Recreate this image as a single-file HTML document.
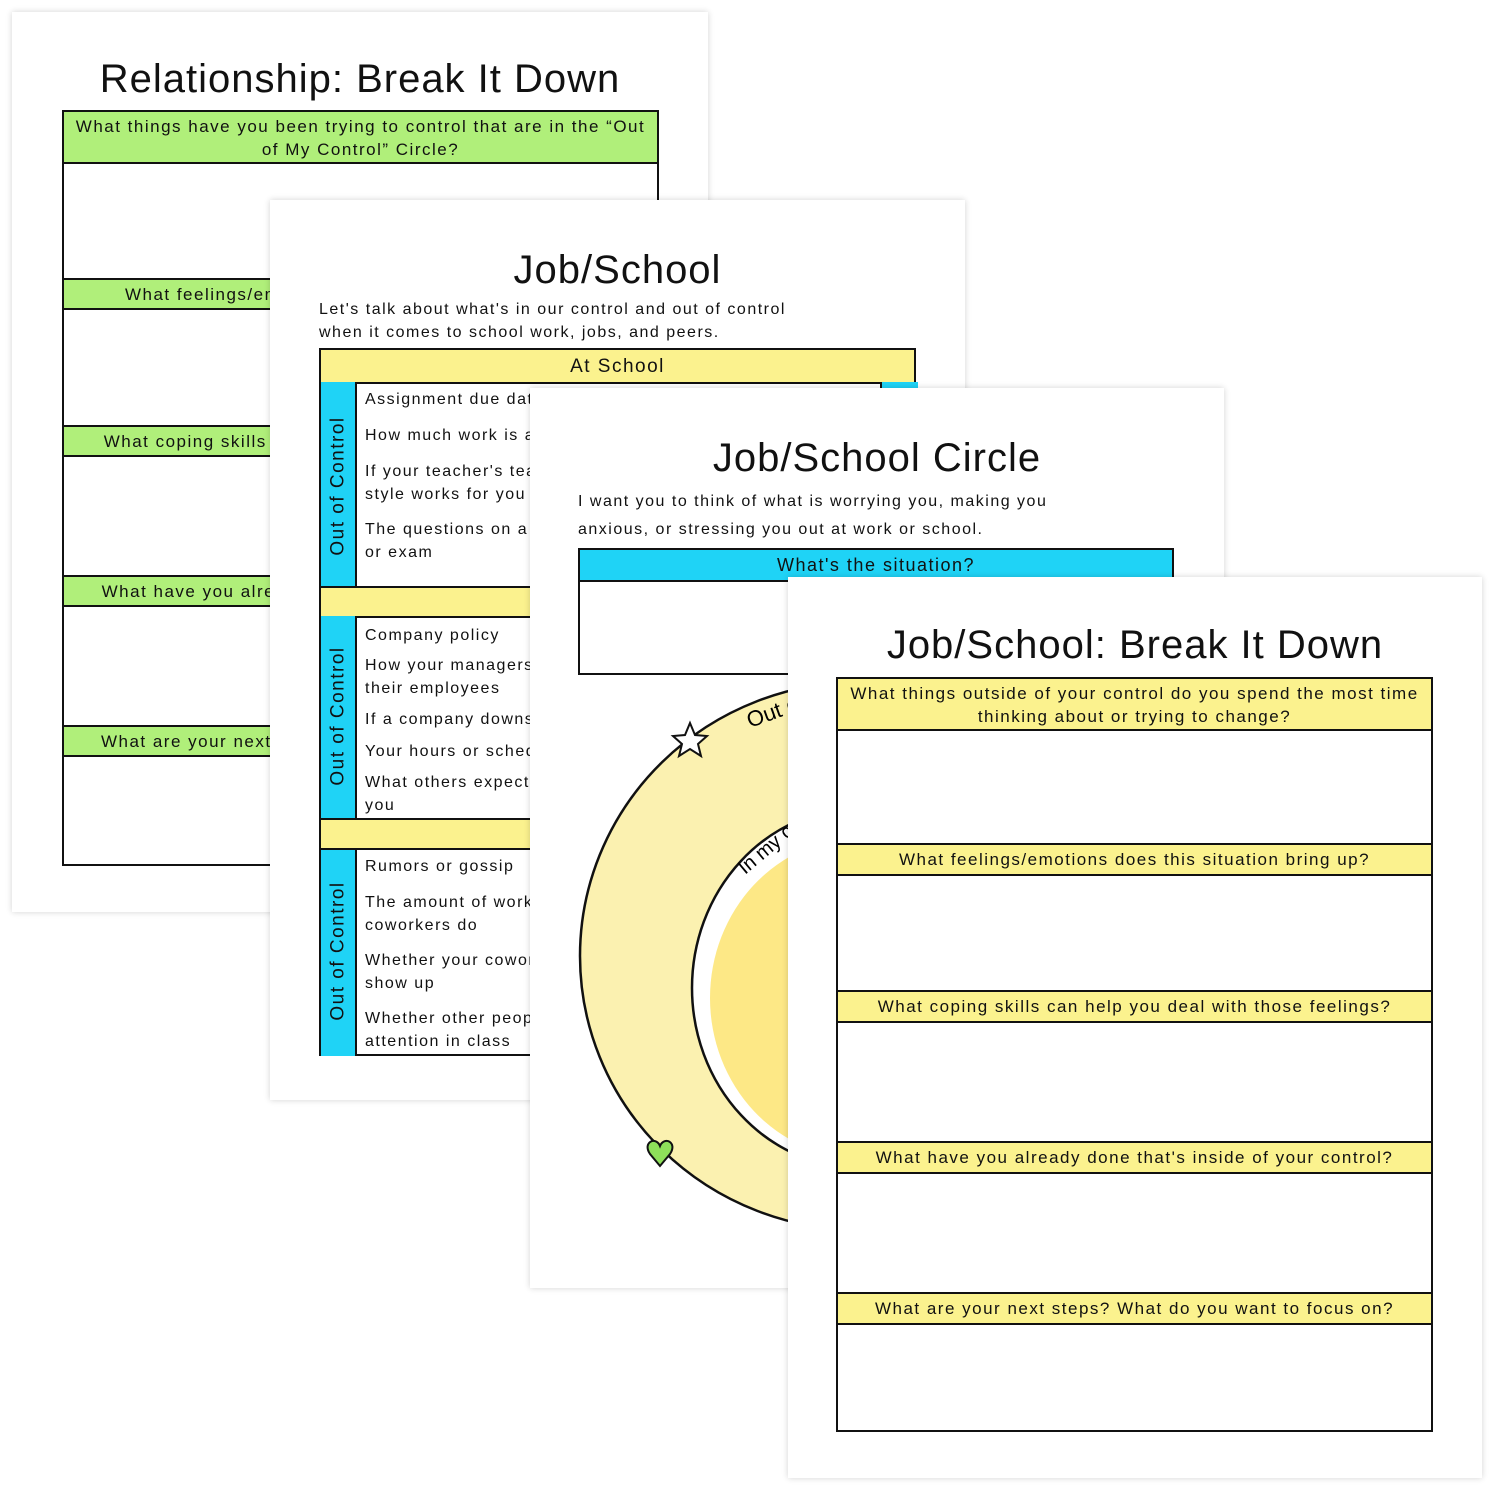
<!DOCTYPE html>
<html><head><meta charset="utf-8"><style>
body{margin:0;width:1500px;height:1500px;background:#fff;position:relative;overflow:hidden;font-family:"Liberation Sans",sans-serif;color:#111}
.pg{position:absolute;background:#fff;box-shadow:0 0 6px rgba(0,0,0,.18);overflow:hidden}
.abs{position:absolute}
.t{position:absolute;left:0;right:0;text-align:center;font-size:40px;letter-spacing:1px}
.box{position:absolute;border:2px solid #111;box-sizing:border-box;background:#fff}
.h{position:absolute;left:0;right:0;border-top:2px solid #111;border-bottom:2px solid #111;box-sizing:border-box;text-align:center;font-size:17px;letter-spacing:1.5px;line-height:23px}
.g{background:#b0ef7a}.y{background:#fbf28e}.b{background:#1fd3f6}
.txt{font-size:16px;letter-spacing:1.5px;line-height:23px;position:absolute}
.rot{position:absolute;transform:rotate(-90deg);transform-origin:center;font-size:19px;letter-spacing:1.5px;white-space:nowrap}
</style></head><body>

<div class="pg" style="left:12px;top:12px;width:696px;height:900px">
<div class="t" style="top:45px">Relationship: Break It Down</div>
<div class="box" style="left:50px;top:98px;width:597px;height:756px">
<div class="h g" style="top:-2px;height:54px;padding:3px 8px">What things have you been trying to control that are in the “Out of My Control” Circle?</div>
<div class="h g" style="top:166px;height:32px;padding-top:3px">What feelings/emotions does this situation bring up?</div>
<div class="h g" style="top:313px;height:32px;padding-top:3px">What coping skills can help you deal with those feelings?</div>
<div class="h g" style="top:463px;height:32px;padding-top:3px">What have you already done that's inside of your control?</div>
<div class="h g" style="top:613px;height:32px;padding-top:3px">What are your next steps? What do you want to focus on?</div>
</div>
</div>

<div class="pg" style="left:270px;top:200px;width:695px;height:900px">
<div class="t" style="top:48px">Job/School</div>
<div class="txt" style="left:49px;top:98px">Let's talk about what's in our control and out of control<br>when it comes to school work, jobs, and peers.</div>
<div class="box" style="left:49px;top:148px;width:597px;height:708px">
<div class="h y" style="top:-2px;height:36px;padding-top:5px;font-size:19px">At School</div>
<div class="abs b" style="left:0;top:32px;width:34px;height:206px;border-right:2px solid #111"></div>
<div class="abs b" style="left:559px;top:32px;width:36px;height:206px;border-left:2px solid #111"></div>
<div class="h y" style="top:236px;height:32px"></div>
<div class="abs b" style="left:0;top:266px;width:34px;height:202px;border-right:2px solid #111"></div>
<div class="h y" style="top:468px;height:32px"></div>
<div class="abs b" style="left:0;top:500px;width:34px;height:206px;border-right:2px solid #111"></div>
<div class="rot" style="left:-55px;top:125px;width:145px;text-align:center">Out of Control</div>
<div class="rot" style="left:-55px;top:355px;width:145px;text-align:center">Out of Control</div>
<div class="rot" style="left:-55px;top:590px;width:145px;text-align:center">Out of Control</div>
<div class="txt" style="left:44px;top:38px">Assignment due dates</div>
<div class="txt" style="left:44px;top:74px">How much work is assigned</div>
<div class="txt" style="left:44px;top:110px">If your teacher's teaching<br>style works for you</div>
<div class="txt" style="left:44px;top:168px">The questions on a test<br>or exam</div>
<div class="txt" style="left:44px;top:274px">Company policy</div>
<div class="txt" style="left:44px;top:304px">How your managers treat<br>their employees</div>
<div class="txt" style="left:44px;top:358px">If a company downsizes</div>
<div class="txt" style="left:44px;top:390px">Your hours or schedule</div>
<div class="txt" style="left:44px;top:421px">What others expect of<br>you</div>
<div class="txt" style="left:44px;top:505px">Rumors or gossip</div>
<div class="txt" style="left:44px;top:541px">The amount of work your<br>coworkers do</div>
<div class="txt" style="left:44px;top:599px">Whether your coworkers<br>show up</div>
<div class="txt" style="left:44px;top:657px">Whether other people pay<br>attention in class</div>
</div>
</div>

<div class="pg" style="left:530px;top:388px;width:694px;height:900px">
<div class="t" style="top:48px">Job/School Circle</div>
<div class="txt" style="left:48px;top:100px;line-height:28px">I want you to think of what is worrying you, making you<br>anxious, or stressing you out at work or school.</div>
<div class="box" style="left:48px;top:160px;width:596px;height:127px">
<div class="h b" style="top:-2px;height:34px;padding-top:4px;font-size:18px">What's the situation?</div>
</div>
<svg class="abs" style="left:0;top:0" width="694" height="900">
<ellipse cx="330" cy="568" rx="280" ry="274" fill="#fbf1b0" stroke="#111" stroke-width="2.5"/>
<ellipse cx="330" cy="600" rx="168" ry="180" fill="#fff" stroke="#111" stroke-width="2.5"/>
<ellipse cx="330" cy="610" rx="150" ry="160" fill="#fde886"/>
<polygon points="160,335 165,347 177,348 168,356 171,368 160,361 149,368 152,356 143,348 155,347" fill="#fff" stroke="#111" stroke-width="2"/>
<path d="M120,766 c-8,-12 6,-18 10,-8 c4,-10 18,-4 10,8 l-10,12 z" fill="#8ee05a" stroke="#111" stroke-width="2"/>
<text x="220" y="340" font-size="22" font-family="Liberation Sans" transform="rotate(-20 220 340)">Out of my control</text>
<text x="215" y="487" font-size="20" font-family="Liberation Sans" transform="rotate(-40 215 487)">In my control</text>
</svg>
</div>

<div class="pg" style="left:788px;top:577px;width:694px;height:901px">
<div class="t" style="top:46px">Job/School: Break It Down</div>
<div class="box" style="left:48px;top:100px;width:597px;height:755px">
<div class="h y" style="top:-2px;height:54px;padding:3px 8px">What things outside of your control do you spend the most time thinking about or trying to change?</div>
<div class="h y" style="top:164px;height:33px;padding-top:3px">What feelings/emotions does this situation bring up?</div>
<div class="h y" style="top:311px;height:33px;padding-top:3px">What coping skills can help you deal with those feelings?</div>
<div class="h y" style="top:462px;height:33px;padding-top:3px">What have you already done that's inside of your control?</div>
<div class="h y" style="top:613px;height:33px;padding-top:3px">What are your next steps? What do you want to focus on?</div>
</div>
</div>
</body></html>
